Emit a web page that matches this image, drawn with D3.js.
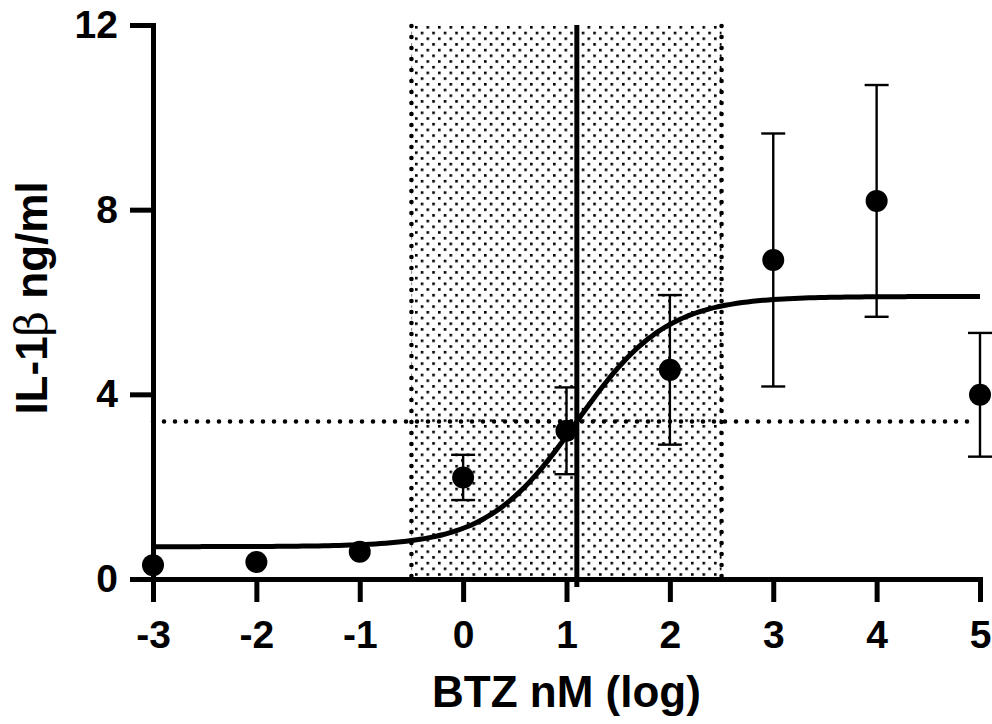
<!DOCTYPE html>
<html>
<head>
<meta charset="utf-8">
<script src="https://cdn.jsdelivr.net/npm/d3@7"></script>
<style>
  html, body { margin: 0; padding: 0; background: #fff; }
  svg { display: block; font-family: "Liberation Sans", Arial, sans-serif; }
</style>
</head>
<body>
<svg id="chart" width="992" height="724"></svg>
<script>
// ---- data ----
const doseLog = [-3, -2, -1, 0, 1, 2, 3, 4, 5];
const il1bMean = [0.30, 0.37, 0.59, 2.20, 3.21, 4.53, 6.91, 8.19, 3.99];
// error bars smaller than the symbol are not drawn (0 here)
const il1bErr  = [0, 0, 0, 0.49, 0.94, 1.62, 2.74, 2.51, 1.34];
const xTicks = [-3, -2, -1, 0, 1, 2, 3, 4, 5];
const yTicks = [0, 4, 8, 12];
// fitted 4-parameter curve: bottom, top, logEC50, hill
const fitParams = [0.70, 6.12, 1.10, 1.0];
// shaded confidence band on x and the EC50 marker lines
const bandX = [-0.5, 2.5];
const ec50Line = [1.10];
const halfLine = [3.41];

const svg = d3.select("#chart");

const x = d3.scaleLinear().domain([-3, 5]).range([153, 980]);
const y = d3.scaleLinear().domain([0, 12]).range([579, 25]);

// dotted fill pattern
const defs = svg.append("defs");
const pat = defs.append("pattern")
  .attr("id", "dots")
  .attr("patternUnits", "userSpaceOnUse")
  .attr("x", Math.round(x(bandX[0])) + 4).attr("y", y(12) + 1)
  .attr("width", 11.5).attr("height", 11.4);
pat.append("rect").attr("x", 0).attr("y", 0).attr("width", 2.6).attr("height", 2.6).attr("fill", "#000");
pat.append("rect").attr("x", 5.75).attr("y", 5.7).attr("width", 2.6).attr("height", 2.6).attr("fill", "#000");

// band
svg.append("rect")
  .attr("x", x(bandX[0]))
  .attr("y", y(12))
  .attr("width", x(bandX[1]) - x(bandX[0]))
  .attr("height", y(0) - y(12))
  .attr("fill", "url(#dots)");

const dotted = sel => sel
  .attr("stroke", "#000")
  .attr("stroke-width", 4.6)
  .attr("stroke-linecap", "round")
  .attr("stroke-dasharray", "0 11")
  .attr("fill", "none");

svg.selectAll("line.bandEdge")
  .data(bandX)
  .join("line")
    .attr("class", "bandEdge")
    .attr("x1", d => x(d)).attr("x2", d => x(d))
    .attr("y1", y(12) + 1).attr("y2", y(0) + 8)
    .call(dotted);

// horizontal dotted line at half-max
svg.selectAll("line.half")
  .data(halfLine)
  .join("line")
    .attr("class", "half")
    .attr("x1", x(-3)).attr("x2", x(5) - 6)
    .attr("y1", d => y(d)).attr("y2", d => y(d))
    .call(dotted);

// EC50 vertical line
svg.selectAll("line.ec50")
  .data(ec50Line)
  .join("line")
    .attr("class", "ec50")
    .attr("x1", d => x(d)).attr("x2", d => x(d))
    .attr("y1", y(12)).attr("y2", y(0) + 8)
    .attr("stroke", "#000")
    .attr("stroke-width", 5);

// fitted curve
const [fitBottom, fitTop, logEC50, hill] = fitParams;
const fit = v => fitBottom + (fitTop - fitBottom) / (1 + Math.pow(10, (logEC50 - v) * hill));
const curveX = d3.range(-3, 5.0001, 0.05);
svg.append("path")
  .datum(curveX)
  .attr("fill", "none")
  .attr("stroke", "#000")
  .attr("stroke-width", 5)
  .attr("d", d3.line().x(d => x(d)).y(d => y(fit(d))).curve(d3.curveMonotoneX));

// error bars
const pts = doseLog.map((d, i) => ({ x: d, m: il1bMean[i], e: il1bErr[i] }));
const withErr = pts.filter(d => d.e > 0);
const eb = svg.append("g").attr("stroke", "#000").attr("stroke-width", 2.4);
eb.selectAll("line.v").data(withErr).join("line")
  .attr("class", "v")
  .attr("x1", d => x(d.x)).attr("x2", d => x(d.x))
  .attr("y1", d => y(d.m - d.e)).attr("y2", d => y(d.m + d.e));
eb.selectAll("line.t").data(withErr).join("line")
  .attr("class", "t")
  .attr("x1", d => x(d.x) - 12).attr("x2", d => x(d.x) + 12)
  .attr("y1", d => y(d.m + d.e)).attr("y2", d => y(d.m + d.e));
eb.selectAll("line.b").data(withErr).join("line")
  .attr("class", "b")
  .attr("x1", d => x(d.x) - 12).attr("x2", d => x(d.x) + 12)
  .attr("y1", d => y(d.m - d.e)).attr("y2", d => y(d.m - d.e));

// axes
const xAxis = svg.append("g")
  .attr("transform", `translate(0,${y(0)})`)
  .call(d3.axisBottom(x).tickValues(xTicks).tickFormat(d => String(d))
    .tickSize(23).tickSizeOuter(0).tickPadding(18));
const yAxis = svg.append("g")
  .attr("transform", `translate(${x(-3)},0)`)
  .call(d3.axisLeft(y).tickValues(yTicks).tickFormat(d => String(d))
    .tickSize(23).tickSizeOuter(0).tickPadding(12));

[xAxis, yAxis].forEach(a => {
  a.select(".domain").attr("stroke", "#000").attr("stroke-width", 5).attr("stroke-linecap", "square");
  a.selectAll(".tick line").attr("stroke", "#000").attr("stroke-width", 5);
  a.selectAll(".tick text")
    .attr("fill", "#000")
    .style("font-size", "39px")
    .style("font-weight", "bold")
    .style("font-family", "'Liberation Sans', Arial, sans-serif");
});

// points
svg.append("g").selectAll("circle").data(pts).join("circle")
  .attr("cx", d => x(d.x))
  .attr("cy", d => y(d.m))
  .attr("r", 11)
  .attr("fill", "#000");

// axis titles
svg.append("text")
  .attr("x", (x(-3) + x(5)) / 2)
  .attr("y", 707)
  .attr("text-anchor", "middle")
  .style("font-size", "44px")
  .style("font-weight", "bold")
  .text("BTZ nM (log)");

const yt = svg.append("text")
  .attr("transform", `translate(47,${(y(0) + y(12)) / 2 - 4}) rotate(-90)`)
  .attr("text-anchor", "middle")
  .style("font-size", "44px")
  .style("font-weight", "bold");
yt.append("tspan").text("IL-1");
yt.append("tspan").style("font-weight", "normal").style("font-family", "'DejaVu Serif', serif").text("β");
yt.append("tspan").text(" ng/ml");
</script>
</body>
</html>
